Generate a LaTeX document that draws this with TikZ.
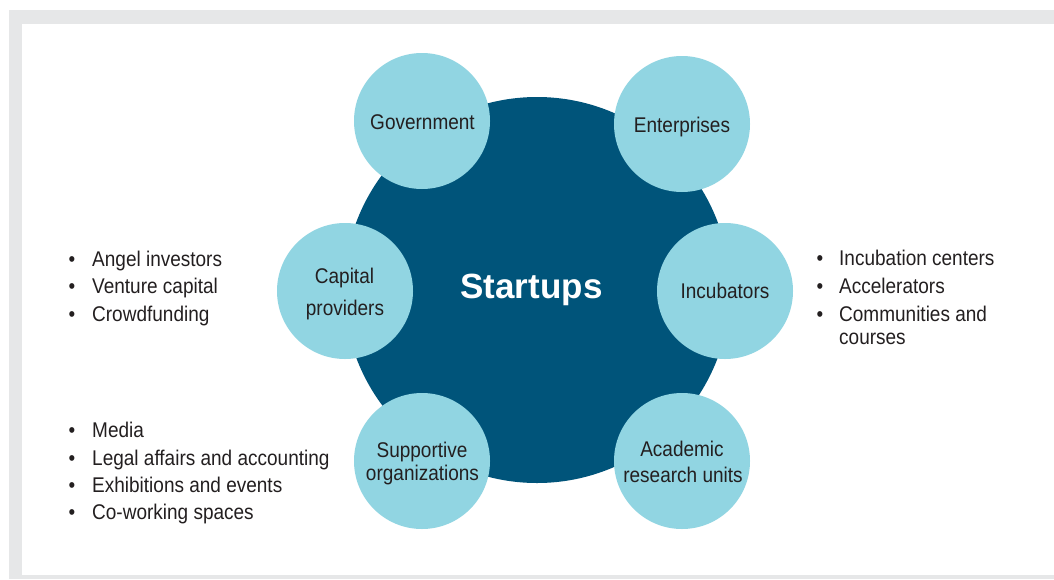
\documentclass[tikz,border=0pt]{standalone}
\usepackage{graphicx}
\usepackage{fontspec}
\setmainfont{Liberation Sans}
\definecolor{dkblue}{RGB}{0,84,122}
\definecolor{ltblue}{RGB}{145,213,226}
\definecolor{bordergray}{RGB}{230,231,232}
\definecolor{txt}{RGB}{35,31,32}
\newcommand\vst[1]{\scalebox{1}[1.12]{#1}}
\newcommand\bitem[5]{%
  \node[bul] (#1b) at (#2,#4) {\vst{\textbullet}};
  \node[item] (#1) at (#3,#4) {\vst{#5}};}
\begin{document}
\begin{tikzpicture}[x=1pt,y=-1pt,
  sat/.style={circle,fill=ltblue,minimum size=136pt,inner sep=0pt},
  lbl/.style={anchor=base,text=txt,font=\fontsize{19}{19}\selectfont,inner sep=0pt},
  item/.style={anchor=base west,text=txt,font=\fontsize{19}{19}\selectfont,inner sep=0pt},
  bul/.style={anchor=base,text=txt,font=\fontsize{19}{19}\selectfont,inner sep=0pt}]
\useasboundingbox (0,0) rectangle (1054,579);
\fill[bordergray] (9,10) rectangle (1054,579);
\fill[white] (22,24) rectangle (1054,575);
% central circle
\node[circle,fill=dkblue,minimum size=386pt,inner sep=0pt] (core) at (537,290) {};
\node[anchor=base,text=white,font=\fontsize{35}{35}\selectfont\bfseries,inner sep=0pt] (coret) at (531.5,298) {Startups};
% satellites
\node[sat] (gov) at (422,121) {};
\node[sat] (ent) at (682,124) {};
\node[sat] (cap) at (345,291) {};
\node[sat] (inc) at (725,291) {};
\node[sat] (sup) at (422,461) {};
\node[sat] (aca) at (682,461) {};
% labels
\node[lbl] (govt) at (422.5,129) {\vst{Government}};
\node[lbl] (entt) at (682,132) {\vst{Enterprises}};
\node[lbl] (capt1) at (344.5,283) {\vst{Capital}};
\node[lbl] (capt2) at (345,315) {\vst{providers}};
\node[lbl] (inct) at (725,298) {\vst{Incubators}};
\node[lbl] (supt1) at (422,457) {\vst{Supportive}};
\node[lbl] (supt2) at (422.5,480) {\vst{organizations}};
\node[lbl] (acat1) at (682,456) {\vst{Academic}};
\node[lbl] (acat2) at (683,482) {\vst{research units}};
% left top list
\bitem{l1}{72}{92}{266}{Angel investors}
\bitem{l2}{72}{92}{293.5}{Venture capital}
\bitem{l3}{72}{92}{321}{Crowdfunding}
% right list
\bitem{r1}{820}{839}{265}{Incubation centers}
\bitem{r2}{820}{839}{293}{Accelerators}
\bitem{r3}{820}{839}{321}{Communities and}
\node[item] (r4) at (839,344) {\vst{courses}};
% bottom left list
\bitem{b1}{72}{92}{437}{Media}
\bitem{b2}{72}{92}{465}{Legal affairs and accounting}
\bitem{b3}{72}{92}{492}{Exhibitions and events}
\bitem{b4}{72}{92}{519}{Co-working spaces}
\end{tikzpicture}
\end{document}
